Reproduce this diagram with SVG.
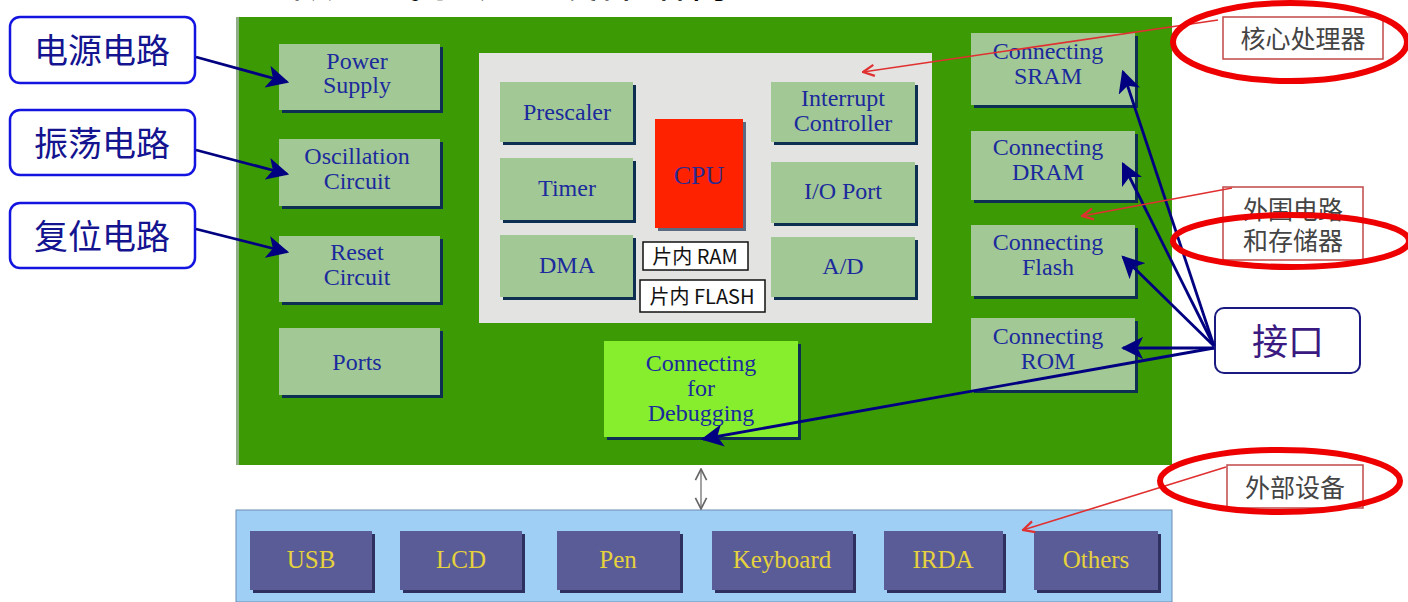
<svg xmlns="http://www.w3.org/2000/svg" width="1408" height="602" viewBox="0 0 1408 602">
<style>
.sh{fill:#0c2f52}
.nd{fill:#a2c895}
.t{font-family:"Liberation Serif",serif;font-size:24px;fill:#1b2a9c;text-anchor:middle}
.bt{font-family:"Liberation Serif",serif;font-size:25px;fill:#e6d23c;text-anchor:middle}
.bb{fill:#5a5c98}
.bs{fill:#2e3060}
.cb{fill:#fff;stroke:#1414e0;stroke-width:2.5}
.ct{font-family:"Noto Sans CJK SC",sans-serif;font-size:34px;fill:#141490;text-anchor:middle}
.rb{fill:#fff;stroke:#c04848;stroke-width:1.5}
.rt{font-family:"Noto Sans CJK SC",sans-serif;font-size:25px;fill:#444;text-anchor:middle}
.el{fill:none;stroke:#ee0000;stroke-width:6}
.nv{stroke:#000080;stroke-width:2.8;fill:none}
.rd{stroke:#e03030;stroke-width:1.6;fill:none}
.cj{font-family:"Noto Sans CJK SC",sans-serif;font-size:20px;fill:#111;text-anchor:middle}
</style>
<defs>
<marker id="nav" markerWidth="8" markerHeight="8" viewBox="0 0 10 10" refX="9" refY="5" orient="auto" markerUnits="strokeWidth">
<path d="M0,0 L10,5 L0,10 L2.5,5 Z" fill="#000080"/>
</marker>
<marker id="red" markerWidth="14" markerHeight="14" viewBox="0 0 10 10" refX="9" refY="5" orient="auto" markerUnits="userSpaceOnUse">
<path d="M1,1 L9,5 L1,9" fill="none" stroke="#e03030" stroke-width="1.6"/>
</marker>
<marker id="gry" markerWidth="14" markerHeight="14" viewBox="0 0 10 10" refX="9" refY="5" orient="auto-start-reverse" markerUnits="userSpaceOnUse">
<path d="M1,1 L9,5 L1,9" fill="none" stroke="#666" stroke-width="1.2"/>
</marker>
</defs>
<rect width="1408" height="602" fill="#fff"/>
<text x="290" y="-3" font-family="Noto Sans CJK SC,sans-serif" font-size="44" fill="#000">嵌入式系统的硬件结构</text>
<g id="board">
<rect x="236" y="17" width="936" height="448" fill="#3c9a04"/>
<rect x="236" y="17" width="3" height="448" fill="#8fae86"/>
<rect x="479" y="53" width="453" height="270" fill="#e3e3e1"/>
</g>
<g id="bus">
<rect x="236" y="510" width="936" height="92" fill="#a0cff6" stroke="#6a8cb0" stroke-width="1"/>
</g>
<g id="power"><rect class="sh" x="282" y="47" width="161" height="66"/><rect class="nd" x="279" y="44" width="161" height="66"/><text class="t" x="357" y="69">Power</text><text class="t" x="357" y="93">Supply</text></g>
<g id="osc"><rect class="sh" x="282" y="142" width="161" height="67"/><rect class="nd" x="279" y="139" width="161" height="67"/><text class="t" x="357" y="164">Oscillation</text><text class="t" x="357" y="189">Circuit</text></g>
<g id="reset"><rect class="sh" x="282" y="239" width="161" height="66"/><rect class="nd" x="279" y="236" width="161" height="66"/><text class="t" x="357" y="260">Reset</text><text class="t" x="357" y="285">Circuit</text></g>
<g id="ports"><rect class="sh" x="282" y="331" width="161" height="67"/><rect class="nd" x="279" y="328" width="161" height="67"/><text class="t" x="357" y="370">Ports</text></g>
<g id="prescaler"><rect class="sh" x="503" y="85" width="133" height="60"/><rect class="nd" x="500" y="82" width="133" height="60"/><text class="t" x="567" y="120">Prescaler</text></g>
<g id="timer"><rect class="sh" x="503" y="161" width="133" height="62"/><rect class="nd" x="500" y="158" width="133" height="62"/><text class="t" x="567" y="196">Timer</text></g>
<g id="dma"><rect class="sh" x="503" y="238" width="133" height="62"/><rect class="nd" x="500" y="235" width="133" height="62"/><text class="t" x="567" y="273">DMA</text></g>
<g id="cpu"><rect x="658" y="122" width="88" height="109" fill="#5a6a80"/><rect x="655" y="119" width="88" height="109" fill="#ff2200"/><text class="t" x="699" y="184" style="font-size:26px;fill:#2a2a90">CPU</text></g>
<g id="ram"><rect x="643" y="242" width="105" height="28" fill="#fff" stroke="#111" stroke-width="1.5"/><text class="cj" x="695" y="264">片内 RAM</text></g>
<g id="flash"><rect x="640" y="280" width="125" height="32" fill="#fff" stroke="#111" stroke-width="1.5"/><text class="cj" x="702" y="304">片内 FLASH</text></g>
<g id="intc"><rect class="sh" x="774" y="85" width="144" height="60"/><rect class="nd" x="771" y="82" width="144" height="60"/><text class="t" x="843" y="106">Interrupt</text><text class="t" x="843" y="131">Controller</text></g>
<g id="io"><rect class="sh" x="774" y="165" width="144" height="61"/><rect class="nd" x="771" y="162" width="144" height="61"/><text class="t" x="843" y="199">I/O Port</text></g>
<g id="ad"><rect class="sh" x="774" y="240" width="144" height="60"/><rect class="nd" x="771" y="237" width="144" height="60"/><text class="t" x="843" y="274">A/D</text></g>
<g id="sram"><rect class="sh" x="974" y="36" width="164" height="72"/><rect class="nd" x="971" y="33" width="164" height="72"/><text class="t" x="1048" y="59">Connecting</text><text class="t" x="1048" y="84">SRAM</text></g>
<g id="dram"><rect class="sh" x="974" y="134" width="164" height="69"/><rect class="nd" x="971" y="131" width="164" height="69"/><text class="t" x="1048" y="155">Connecting</text><text class="t" x="1048" y="180">DRAM</text></g>
<g id="flashc"><rect class="sh" x="974" y="228" width="164" height="71"/><rect class="nd" x="971" y="225" width="164" height="71"/><text class="t" x="1048" y="250">Connecting</text><text class="t" x="1048" y="275">Flash</text></g>
<g id="rom"><rect class="sh" x="974" y="321" width="164" height="72"/><rect class="nd" x="971" y="318" width="164" height="72"/><text class="t" x="1048" y="344">Connecting</text><text class="t" x="1048" y="369">ROM</text></g>
<g id="debug"><rect class="sh" x="607" y="344" width="194" height="96"/><rect x="604" y="341" width="194" height="96" fill="#86ee2c"/><text class="t" x="701" y="371">Connecting</text><text class="t" x="701" y="396">for</text><text class="t" x="701" y="421">Debugging</text></g>
<g id="usb"><rect class="bs" x="253" y="534" width="122" height="59"/><rect class="bb" x="250" y="531" width="122" height="59"/><text class="bt" x="311" y="568">USB</text></g>
<g id="lcd"><rect class="bs" x="403" y="534" width="122" height="59"/><rect class="bb" x="400" y="531" width="122" height="59"/><text class="bt" x="461" y="568">LCD</text></g>
<g id="pen"><rect class="bs" x="560" y="534" width="123" height="59"/><rect class="bb" x="557" y="531" width="123" height="59"/><text class="bt" x="618" y="568">Pen</text></g>
<g id="keyboard"><rect class="bs" x="715" y="534" width="141" height="59"/><rect class="bb" x="712" y="531" width="141" height="59"/><text class="bt" x="782" y="568">Keyboard</text></g>
<g id="irda"><rect class="bs" x="887" y="534" width="119" height="59"/><rect class="bb" x="884" y="531" width="119" height="59"/><text class="bt" x="943" y="568">IRDA</text></g>
<g id="others"><rect class="bs" x="1037" y="534" width="124" height="59"/><rect class="bb" x="1034" y="531" width="124" height="59"/><text class="bt" x="1096" y="568">Others</text></g>
<g id="c-power"><rect class="cb" x="10" y="17" width="185" height="66" rx="10"/><text class="ct" x="102" y="63">电源电路</text></g>
<g id="c-osc"><rect class="cb" x="10" y="110" width="185" height="65" rx="10"/><text class="ct" x="102" y="156">振荡电路</text></g>
<g id="c-reset"><rect class="cb" x="10" y="203" width="185" height="65" rx="10"/><text class="ct" x="102" y="249">复位电路</text></g>
<g id="c-iface"><rect x="1215" y="308" width="145" height="65" rx="9" fill="#fff" stroke="#1a1a80" stroke-width="2"/><text class="ct" x="1288" y="355" style="font-size:36px;fill:#3a1a80">接口</text></g>
<g id="a-core"><rect class="rb" x="1223" y="17" width="160" height="42"/><text class="rt" x="1303" y="48">核心处理器</text></g>
<g id="a-periph"><rect class="rb" x="1223" y="187" width="140" height="73"/><text class="rt" x="1293" y="219">外围电路</text><text class="rt" x="1293" y="250">和存储器</text></g>
<g id="a-ext"><rect class="rb" x="1227" y="465" width="136" height="43"/><text class="rt" x="1295" y="497">外部设备</text></g>
<g id="connectors">
<line class="nv" x1="196" y1="57" x2="287" y2="82" marker-end="url(#nav)"/>
<line class="nv" x1="196" y1="150" x2="287" y2="174" marker-end="url(#nav)"/>
<line class="nv" x1="196" y1="229" x2="287" y2="252" marker-end="url(#nav)"/>
<line class="nv" x1="1214" y1="346" x2="1123" y2="72" marker-end="url(#nav)"/>
<line class="nv" x1="1214" y1="346" x2="1123" y2="164" marker-end="url(#nav)"/>
<line class="nv" x1="1214" y1="346" x2="1123" y2="257" marker-end="url(#nav)"/>
<line class="nv" x1="1214" y1="348" x2="1123" y2="348" marker-end="url(#nav)"/>
<line class="nv" x1="1214" y1="348" x2="703" y2="439" marker-end="url(#nav)"/>
<line class="rd" x1="1218" y1="20" x2="863" y2="72" marker-end="url(#red)"/>
<line class="rd" x1="1232" y1="188" x2="1082" y2="216" marker-end="url(#red)"/>
<line class="rd" x1="1226" y1="467" x2="1023" y2="530" marker-end="url(#red)"/>
<line x1="701" y1="469" x2="701" y2="509" stroke="#666" stroke-width="1.2" marker-start="url(#gry)" marker-end="url(#gry)"/>
</g>
<g id="ellipses">
<ellipse class="el" cx="1290" cy="42" rx="117" ry="39"/>
<ellipse class="el" cx="1291" cy="241" rx="118" ry="26"/>
<ellipse class="el" cx="1280" cy="481" rx="120" ry="31"/>
</g>
</svg>
